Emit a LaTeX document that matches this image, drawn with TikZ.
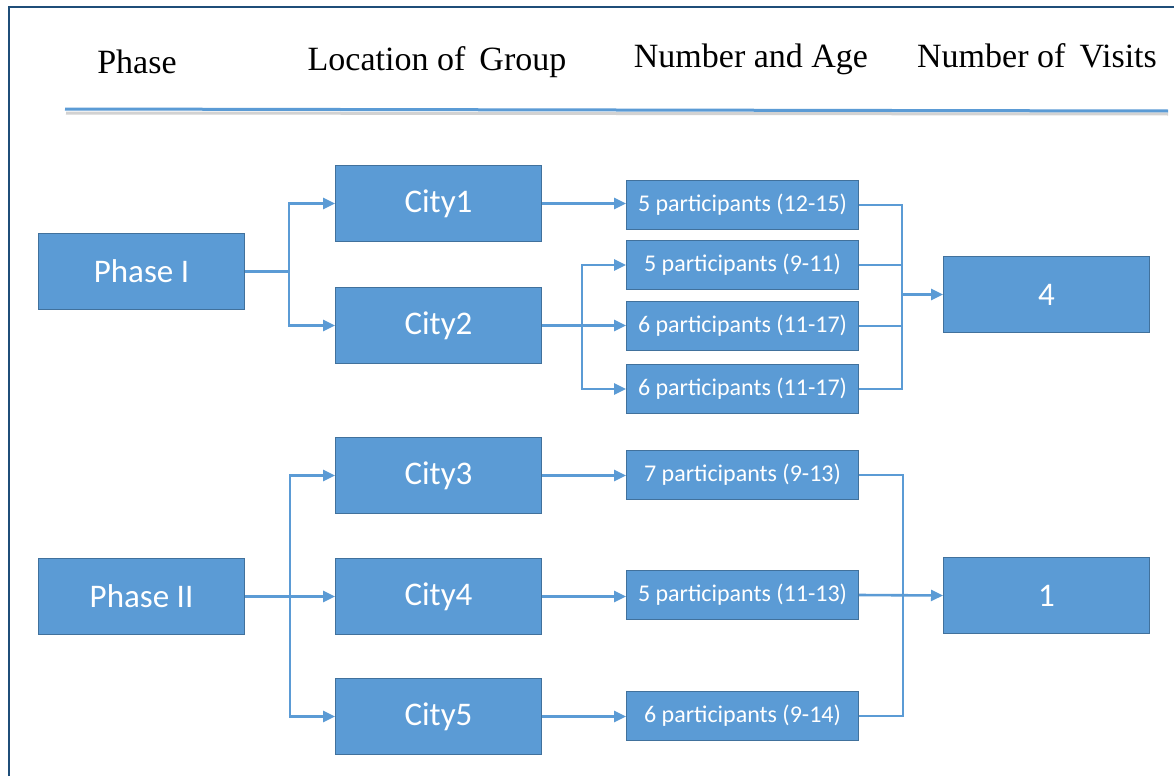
\documentclass[tikz,border=0pt]{standalone}
\usepackage{fontspec}
\setmainfont{Liberation Serif}
\newfontfamily\boxfont{Carlito}
\usetikzlibrary{arrows.meta}
\definecolor{boxblue}{HTML}{5B9BD5}
\definecolor{boxedge}{HTML}{41719C}
\definecolor{framec}{HTML}{1F4E79}
\begin{document}
\begin{tikzpicture}[x=1pt,y=-1pt,
  box/.style={draw=boxedge, line width=1pt, fill=boxblue, text=white, inner sep=0pt, anchor=north west},
  bigbox/.style={box, minimum width=206pt, minimum height=76pt, font=\boxfont\fontsize{33}{38}\selectfont},
  partbox/.style={box, minimum width=232pt, minimum height=49pt, font=\boxfont\fontsize{24}{28}\selectfont},
  conn/.style={draw=boxblue, line width=2.6pt},
  arr/.style={conn, -{Triangle[length=12pt,width=11pt]}},
  head/.style={font=\fontsize{34}{40}\selectfont, inner sep=0pt}
]
\useasboundingbox (0,0) rectangle (1174,776);
\fill[white] (0,0) rectangle (1174,776);
% frame
\draw[framec, line width=2.5pt] (9,776) -- (9,7) -- (1174,7);
% header
\node[head] (h1) at (137,62) {Phase};
\node[head] (h2) at (437,62) {Location of\, Group};
\node[head] (h3) at (751,59) {Number and Age};
\node[head] (h4) at (1037,56) {Number of\, Visits};
\draw[gray!35, line width=3pt] (66,113) -- (1168,114);
\draw[boxblue, line width=3pt] (65,109) -- (1168,111);
% phase boxes
\node[bigbox] (ph1) at (38,233) {Phase I};
\node[bigbox] (ph2) at (38,558) {Phase II};
% cities
\node[bigbox] (c1) at (335,165) {City1};
\node[bigbox] (c2) at (335,287) {City2};
\node[bigbox] (c3) at (335,437) {City3};
\node[bigbox] (c4) at (335,558) {City4};
\node[bigbox] (c5) at (335,678) {City5};
% participants
\node[partbox] (p1) at (626,180) {5 participants (12-15)};
\node[partbox] (p2) at (626,240) {5 participants (9-11)};
\node[partbox] (p3) at (626,301) {6 participants (11-17)};
\node[partbox] (p4) at (626,364) {6 participants (11-17)};
\node[partbox] (p5) at (626,450) {7 participants (9-13)};
\node[partbox] (p6) at (626,570) {5 participants (11-13)};
\node[partbox] (p7) at (626,691) {6 participants (9-14)};
% results
\node[bigbox] (r4) at (943,256) {4};
\node[bigbox] (r1) at (943,557) {1};
% Phase I connectors
\coordinate (s1) at ([xshift=44pt]ph1.east);
\draw[conn] (ph1.east) -- (s1);
\draw[arr] (s1) |- (c1.west);
\draw[arr] (s1) |- (c2.west);
\draw[arr] (c1.east) -- (c1.east -| p1.west);
\coordinate (s2) at ([xshift=40pt]c2.east);
\draw[arr] (c2.east) -- (c2.east -| p3.west);
\draw[arr] (s2) |- (p2.west);
\draw[arr] (s2) |- (p4.west);
\coordinate (m1) at ([xshift=43pt]p4.east);
\draw[conn] (p1.east) -| (m1) -- (p4.east);
\draw[conn] (p2.east) -- ++(43,0);
\draw[conn] (p3.east) -- ++(43,0);
\draw[arr] ([xshift=-42pt]r4.west) -- (r4.west);
% Phase II connectors
\coordinate (s3) at ([xshift=45pt]ph2.east);
\draw[arr] (s3) |- (c3.west);
\draw[arr] (s3) |- (c5.west);
\draw[arr] (ph2.east) -- (c4.west);
\draw[arr] (c3.east) -- (c3.east -| p5.west);
\draw[arr] (c4.east) -- (c4.east -| p6.west);
\draw[arr] (c5.east) -- (c5.east -| p7.west);
\coordinate (m2) at ([xshift=44pt]p7.east);
\draw[conn] (p5.east) -| (m2) -- (p7.east);
\draw[arr] (p6.east) -- (r1.west);
\end{tikzpicture}
\end{document}
